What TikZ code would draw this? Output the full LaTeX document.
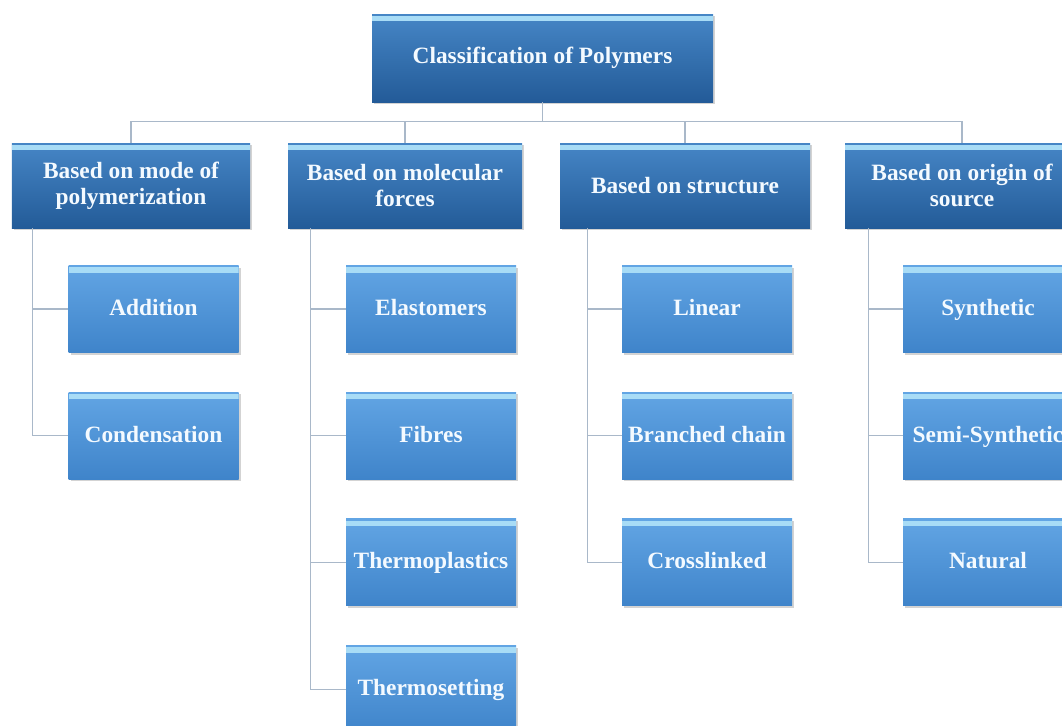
\documentclass[tikz,border=0pt]{standalone}
\usepackage{fontspec}
\setmainfont{Liberation Serif}
\usetikzlibrary{positioning,shadows}
\definecolor{rootTop}{HTML}{4686C6}
\definecolor{rootBot}{HTML}{235B98}
\definecolor{leafTop}{HTML}{62A5E4}
\definecolor{leafBot}{HTML}{3F84CA}
\definecolor{stripCol}{HTML}{A8DCF6}
\definecolor{linkCol}{HTML}{A9B8C9}
\definecolor{txtCol}{HTML}{F4FAFF}
\tikzset{
  box/.style={rectangle, inner xsep=1pt, inner ysep=2pt, align=center,
    text=txtCol, font=\fontsize{13.3}{15}\selectfont\bfseries,
    drop shadow={shadow xshift=1.2pt, shadow yshift=-1.2pt, opacity=0.35},
    path picture={\fill[stripCol] ([yshift=-1pt]path picture bounding box.north west)
      rectangle ([yshift=-4pt]path picture bounding box.north east);}},
  headbox/.style={box, top color=rootTop, bottom color=rootBot},
  leafbox/.style={box, top color=leafTop, bottom color=leafBot,
    text height=1.8ex, text depth=0.2ex,
    minimum width=3.4cm, minimum height=1.74cm},
  link/.style={draw=linkCol, line width=0.6pt}
}
\begin{document}
\begin{tikzpicture}
    \useasboundingbox (0,0) rectangle (21.24,-14.52);
    % top of the tree
    \node[headbox, minimum width=6.82cm, minimum height=1.76cm] (root) at (10.85,-1.16) {Classification of Polymers};
    % four groups
    \node[headbox, minimum width=4.76cm, minimum height=1.70cm] (mode) at (2.62,-3.71) {Based on mode of\\polymerization};
    \node[headbox, minimum width=4.68cm, minimum height=1.70cm] (forces) at (8.10,-3.71) {Based on molecular\\forces};
    \node[headbox, minimum width=5.00cm, minimum height=1.70cm] (struct) at (13.70,-3.71) {Based on structure};
    \node[headbox, minimum width=4.68cm, minimum height=1.70cm] (origin) at (19.24,-3.71) {Based on origin of\\source};
    % leaves
    \node[leafbox] (add) at (3.07,-6.18) {Addition};
    \node[leafbox, below=0.78cm of add] (cond) {Condensation};
    \node[leafbox] (elast) at (8.62,-6.18) {Elastomers};
    \node[leafbox, below=0.78cm of elast] (fib) {Fibres};
    \node[leafbox, below=0.78cm of fib] (tplast) {Thermoplastics};
    \node[leafbox, below=0.78cm of tplast] (tset) {Thermosetting};
    \node[leafbox] (lin) at (14.14,-6.18) {Linear};
    \node[leafbox, below=0.78cm of lin] (branch) {Branched chain};
    \node[leafbox, below=0.78cm of branch] (cross) {Crosslinked};
    \node[leafbox] (synth) at (19.76,-6.18) {Synthetic};
    \node[leafbox, below=0.78cm of synth] (semi) {Semi-Synthetic};
    \node[leafbox, below=0.78cm of semi] (nat) {Natural};
    % bus under the root
    \foreach \g in {mode,forces,struct,origin}
      \draw[link] (root.south) -- ++(0,-0.38) -| (\g.north);
    % trunks
    \coordinate (t1) at ([xshift=-0.72cm]mode.south -| add.west);
    \coordinate (t2) at ([xshift=-0.70cm]forces.south -| elast.west);
    \coordinate (t3) at ([xshift=-0.68cm]struct.south -| lin.west);
    \coordinate (t4) at ([xshift=-0.68cm]origin.south -| synth.west);
    \foreach \c in {add,cond} \draw[link] (t1) |- (\c.west);
    \foreach \c in {elast,fib,tplast,tset} \draw[link] (t2) |- (\c.west);
    \foreach \c in {lin,branch,cross} \draw[link] (t3) |- (\c.west);
    \foreach \c in {synth,semi,nat} \draw[link] (t4) |- (\c.west);
\end{tikzpicture}
\end{document}
